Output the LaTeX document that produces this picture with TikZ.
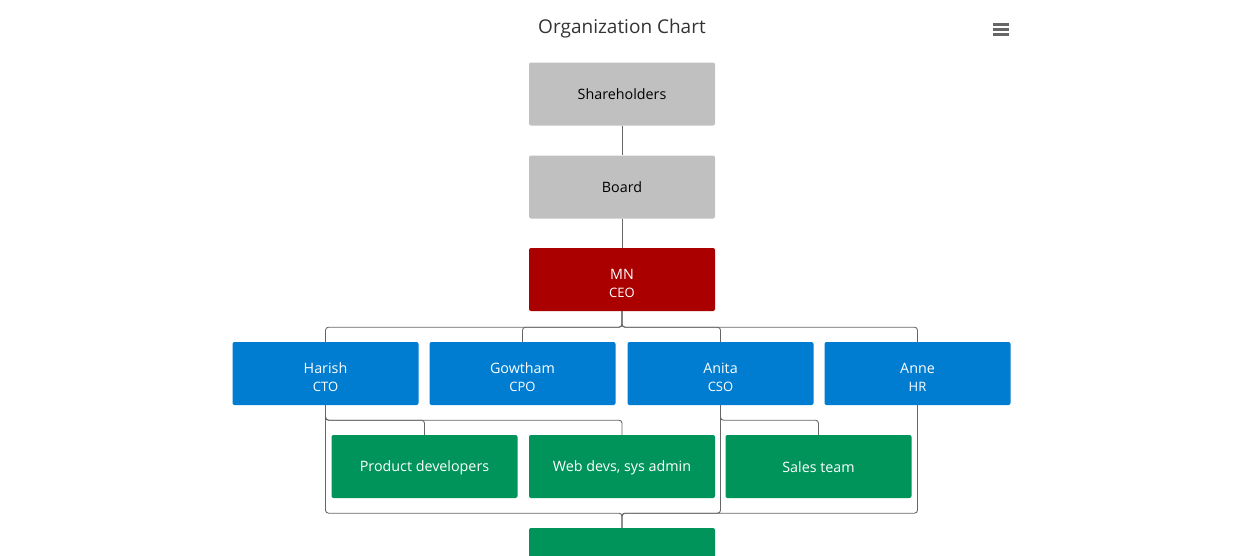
\documentclass[tikz,border=0pt]{standalone}
\usepackage{fontspec}
\setmainfont{Open Sans}
\usetikzlibrary{positioning,calc}
\definecolor{boxgray}{RGB}{192,192,192}
\definecolor{boxred}{RGB}{170,0,0}
\definecolor{boxblue}{RGB}{0,124,208}
\definecolor{boxgreen}{RGB}{0,148,90}
\definecolor{linkgray}{RGB}{102,102,102}
\definecolor{titlegray}{RGB}{51,51,51}
\newcommand{\person}[2]{\rule{0pt}{20pt}#1\\[0pt]{\fontsize{13}{18}\selectfont #2}}
\newcommand{\boxstrut}{\rule[-3pt]{0pt}{17pt}}

\begin{document}
\begin{tikzpicture}[x=1pt,y=-1pt,
        box/.style={rectangle,rounded corners=2pt,minimum width=186pt,
                    minimum height=63pt,inner sep=0pt,align=center,
                    font=\fontsize{14.3}{18}\selectfont,
                    execute at begin node=\boxstrut,execute at end node=\boxstrut},
        board/.style={box,fill=boxgray,text=black},
        chief/.style={box,fill=boxred,text=white},
        lead/.style={box,fill=boxblue,text=white},
        team/.style={box,fill=boxgreen,text=white},
        link/.style={draw=linkgray,line width=0.9pt,rounded corners=3pt}]
  \useasboundingbox (0,0) rectangle (1239,555);
  \clip (0,0) rectangle (1239,555);
  \node[text=titlegray,font=\fontsize{19}{22}\selectfont] (title) at (622,29) {Organization Chart};
  % export menu
  \foreach \y in {24.5,29.5,34.5}
    \draw[linkgray,line width=2.6pt] (993,\y) -- (1009,\y);
  % levels
  \node[board] (share) at (622,94) {Shareholders};
  \node[board] (board) at (622,187) {Board};
  \node[chief] (ceo) at (622,279.5) {\person{MN}{CEO}};
  \node[lead] (cto) at (325.5,373.5) {\person{Harish}{CTO}};
  \node[lead] (cpo) at (522.5,373.5) {\person{Gowtham}{CPO}};
  \node[lead] (cso) at (720.5,373.5) {\person{Anita}{CSO}};
  \node[lead] (hr)  at (917.5,373.5) {\person{Anne}{HR}};
  \node[team] (prod)  at (424.5,466.5) {Product developers};
  \node[team] (web)   at (622,466.5) {Web devs, sys admin};
  \node[team] (sales) at (818.5,466.5) {Sales team};
  \node[team] (mkt)   at (622,559.5) {};
  % links
  \draw[link] (share) -- (board);
  \draw[link] (board) -- (ceo);
  \foreach \c in {cto,cpo,cso,hr}
    \draw[link] (ceo.south) -- ++(0,16) -| (\c.north);
  \foreach \c in {prod,web}
    \draw[link] (cto.south) -- ++(0,15) -| (\c.north);
  \draw[link] (cso.south) -- ++(0,15) -| (sales.north);
  \foreach \c in {cto,cso,hr}
    \draw[link] (\c.south) -- ++(0,108) -| (mkt.north);
\end{tikzpicture}
\end{document}
